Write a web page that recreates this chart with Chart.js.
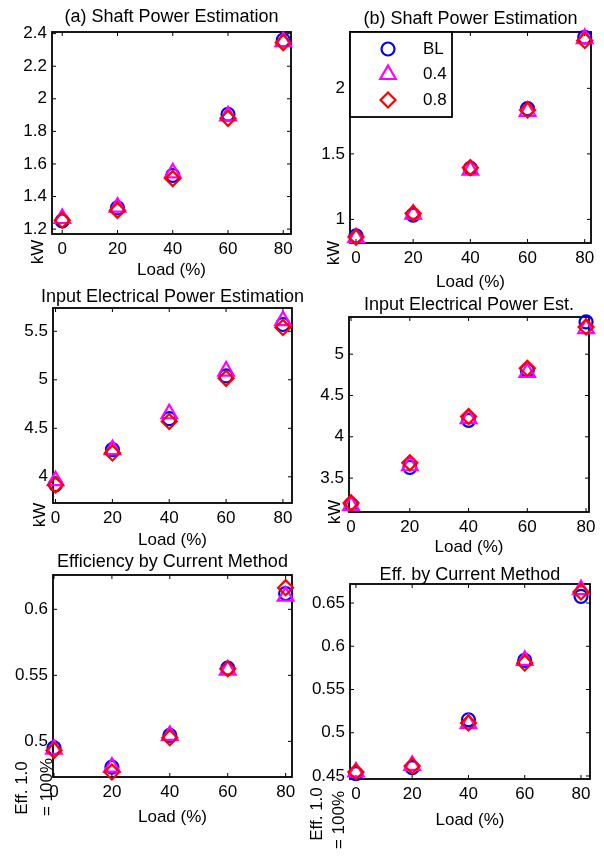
<!DOCTYPE html>
<html>
<head>
<meta charset="utf-8">
<script src="https://cdn.jsdelivr.net/npm/chart.js@4"></script>
<style>
html, body { margin: 0; padding: 0; background: #fff; }
#wrap { position: relative; width: 604px; height: 856px; overflow: hidden; }
#wrap canvas { position: absolute; left: 0; top: 0; }
</style>
</head>
<body>
<div id="wrap">
<canvas id="c1" width="604" height="856"></canvas>
<canvas id="c2" width="604" height="856"></canvas>
<canvas id="c3" width="604" height="856"></canvas>
<canvas id="c4" width="604" height="856"></canvas>
<canvas id="c5" width="604" height="856"></canvas>
<canvas id="c6" width="604" height="856"></canvas>
</div>
<script>
/* ===== data ===== */

const loads = [0, 20, 40, 60, 80];
const seriesNames = ["BL", "0.4", "0.8"];

// (a) shaft power, kW
const shaftA_BL = [1.25, 1.33, 1.53, 1.905, 2.36];
const shaftA_04 = [1.265, 1.335, 1.545, 1.895, 2.35];
const shaftA_08 = [1.255, 1.315, 1.51, 1.88, 2.345];
const shaftA_ticks = [1.2, 1.4, 1.6, 1.8, 2, 2.2, 2.4];

// (b) shaft power, kW
const shaftB_BL = [0.875, 1.033, 1.39, 1.845, 2.39];
const shaftB_04 = [0.86, 1.04, 1.375, 1.825, 2.38];
const shaftB_08 = [0.865, 1.046, 1.395, 1.835, 2.365];
const shaftB_ticks = [1, 1.5, 2];

// input electrical power (left), kW
const inputA_BL = [3.92, 4.28, 4.6, 5.04, 5.57];
const inputA_04 = [3.96, 4.28, 4.65, 5.09, 5.61];
const inputA_08 = [3.915, 4.245, 4.57, 5.015, 5.54];
const inputA_ticks = [4, 4.5, 5, 5.5];

// input electrical power (right), kW
const inputB_BL = [3.18, 3.63, 4.2, 4.805, 5.39];
const inputB_04 = [3.17, 3.65, 4.22, 4.78, 5.31];
const inputB_08 = [3.2, 3.685, 4.245, 4.83, 5.33];
const inputB_ticks = [3.5, 4, 4.5, 5];

// efficiency by current method (left)
const effA_BL = [0.495, 0.4805, 0.5045, 0.5555, 0.612];
const effA_04 = [0.494, 0.4805, 0.5045, 0.554, 0.61];
const effA_08 = [0.4932, 0.4768, 0.5028, 0.555, 0.6164];
const effA_ticks = [0.5, 0.55, 0.6];

// efficiency by current method (right)
const effB_BL = [0.4527, 0.4596, 0.515, 0.5837, 0.6577];
const effB_04 = [0.4546, 0.4623, 0.5105, 0.5837, 0.6654];
const effB_08 = [0.4546, 0.4615, 0.5113, 0.5806, 0.6627];
const effB_ticks = [0.45, 0.5, 0.55, 0.6, 0.65];

/* ===== styles ===== */

const FONT = { family: "'Liberation Sans', Arial, sans-serif", size: 17, weight: "normal" };
const TITLE_SIZE = 18;
const markerStyles = ["circle", "triangle", "rectRot"];
const markerSizes = [6.5, 9, 7.5];
const markerColors = ["#0000ff", "#ff00ff", "#ff0000"];
const Y_AXIS_W = 45;
const TICK = 4;

Chart.defaults.font.family = FONT.family;
Chart.defaults.color = "#000";

/* ===== panel layout ===== */

const panels = [
    { id: "c1", title: "(a) Shaft Power Estimation",
      series: [shaftA_BL, shaftA_04, shaftA_08], yTicks: shaftA_ticks,
      yMin: 1.17, yMax: 2.41, xMin: -3.7, xMax: 82.8,
      area: { left: 52, top: 32, right: 291, bottom: 234 }, titleY: 17, loadY: 270,
      ylab: [{ text: "kW", dx: -14, dy: 18 }] },
    { id: "c2", title: "(b) Shaft Power Estimation",
      series: [shaftB_BL, shaftB_04, shaftB_08], yTicks: shaftB_ticks,
      yMin: 0.82, yMax: 2.43, xMin: -2.1, xMax: 82.2,
      area: { left: 350, top: 32, right: 591, bottom: 243 }, titleY: 19, loadY: 282,
      ylab: [{ text: "kW", dx: -16, dy: 10 }], legend: true },
    { id: "c3", title: "Input Electrical Power Estimation",
      series: [inputA_BL, inputA_04, inputA_08], yTicks: inputA_ticks,
      yMin: 3.73, yMax: 5.74, xMin: -0.9, xMax: 83.2,
      area: { left: 53, top: 308, right: 292, bottom: 503 }, titleY: 297, loadY: 540,
      ylab: [{ text: "kW", dx: -13, dy: 12 }] },
    { id: "c4", title: "Input Electrical Power Est.",
      series: [inputB_BL, inputB_04, inputB_08], yTicks: inputB_ticks,
      yMin: 3.09, yMax: 5.45, xMin: -0.7, xMax: 81,
      area: { left: 349, top: 317, right: 589, bottom: 512 }, titleY: 305, loadY: 547,
      ylab: [{ text: "kW", dx: -14, dy: 0 }] },
    { id: "c5", title: "Efficiency by Current Method",
      series: [effA_BL, effA_04, effA_08], yTicks: effA_ticks,
      yMin: 0.473, yMax: 0.626, xMin: -0.35, xMax: 82.2,
      area: { left: 53, top: 575, right: 292, bottom: 777 }, titleY: 562, loadY: 817,
      ylab: [{ text: "Eff. 1.0", dx: -31, dy: 11 }, { text: "= 100%", dx: -6, dy: 10 }] },
    { id: "c6", title: "Eff. by Current Method",
      series: [effB_BL, effB_04, effB_08], yTicks: effB_ticks,
      yMin: 0.4465, yMax: 0.672, xMin: -2.1, xMax: 83.2,
      area: { left: 350, top: 584, right: 590, bottom: 779 }, titleY: 575, loadY: 820,
      ylab: [{ text: "Eff. 1.0", dx: -33, dy: 35 }, { text: "= 100%", dx: -11, dy: 41 }] }
];

/* ===== plugins ===== */

// axes box with inward ticks on all four sides
const framePlugin = {
    id: "frame",
    beforeDatasetsDraw(chart) {
        const { ctx, chartArea: a, scales } = chart;
        ctx.save();
        ctx.strokeStyle = "#000";
        ctx.lineWidth = 1.8;
        ctx.strokeRect(a.left, a.top, a.right - a.left, a.bottom - a.top);
        ctx.beginPath();
        scales.x.ticks.forEach(t => {
            const px = scales.x.getPixelForValue(t.value);
            ctx.moveTo(px, a.bottom); ctx.lineTo(px, a.bottom - TICK);
            ctx.moveTo(px, a.top); ctx.lineTo(px, a.top + TICK);
        });
        scales.y.ticks.forEach(t => {
            const py = scales.y.getPixelForValue(t.value);
            ctx.moveTo(a.left, py); ctx.lineTo(a.left + TICK, py);
            ctx.moveTo(a.right, py); ctx.lineTo(a.right - TICK, py);
        });
        ctx.lineWidth = 1;
        ctx.stroke();
        ctx.restore();
    }
};

// panel title centred over the axes, allowed to run past them like MATLAB does
const panelTitlePlugin = {
    id: "panelTitle",
    afterDraw(chart, args, opts) {
        const { ctx, chartArea: a } = chart;
        ctx.save();
        ctx.fillStyle = "#000";
        ctx.font = TITLE_SIZE + "px " + FONT.family;
        ctx.textAlign = "center";
        ctx.textBaseline = "middle";
        ctx.fillText(opts.text, (a.left + a.right) / 2, opts.y);
        ctx.restore();
    }
};

// rotated y label sitting low by the origin, as in the original figure
const ylabelPlugin = {
    id: "ylab",
    afterDraw(chart, args, opts) {
        const { ctx, chartArea: a } = chart;
        ctx.save();
        ctx.fillStyle = "#000";
        ctx.font = FONT.size + "px " + FONT.family;
        ctx.textAlign = "center";
        ctx.textBaseline = "middle";
        (opts.lines || []).forEach(l => {
            ctx.save();
            ctx.translate(a.left + l.dx, a.bottom + l.dy);
            ctx.rotate(-Math.PI / 2);
            ctx.fillText(l.text, 0, 0);
            ctx.restore();
        });
        ctx.restore();
    }
};

// boxed legend in the top-left corner of the plot area
const boxLegendPlugin = {
    id: "boxLegend",
    afterDraw(chart, args, opts) {
        if (!opts.show) return;
        const { ctx, chartArea: a } = chart;
        ctx.save();
        ctx.fillStyle = "#fff";
        ctx.fillRect(a.left, a.top, 102, 85);
        ctx.strokeStyle = "#000";
        ctx.lineWidth = 1.8;
        ctx.strokeRect(a.left, a.top, 102, 85);
        ctx.font = FONT.size + "px " + FONT.family;
        ctx.textBaseline = "middle";
        ctx.textAlign = "left";
        chart.data.datasets.forEach((ds, i) => {
            const y = a.top + 17 + i * 25.5;
            ctx.strokeStyle = ds.pointBorderColor;
            ctx.fillStyle = "rgba(0,0,0,0)";
            ctx.lineWidth = ds.pointBorderWidth;
            Chart.helpers.drawPoint(ctx, {
                pointStyle: ds.pointStyle,
                radius: ds.pointRadius,
                borderWidth: ds.pointBorderWidth,
                rotation: 0
            }, a.left + 38, y);
            ctx.fillStyle = "#000";
            ctx.fillText(ds.label, a.left + 73, y);
        });
        ctx.restore();
    }
};

/* ===== charts ===== */

function makePanel(p) {

    const a = p.area;
    const half = FONT.size * 1.2 / 2;

    return new Chart(document.getElementById(p.id), {

        type: "scatter",

        data: {
            datasets: seriesNames.map((name, i) => ({
                label: name,
                data: loads.map((x, k) => ({ x: x, y: p.series[i][k] })),
                pointStyle: markerStyles[i],
                pointRadius: markerSizes[i],
                pointBorderColor: markerColors[i],
                pointBackgroundColor: "rgba(0,0,0,0)",
                pointBorderWidth: 2.2,
                showLine: false,
                order: 3 - i,
                clip: false
            }))
        },

        options: {
            responsive: false,
            animation: false,
            events: [],
            layout: {
                padding: {
                    left: a.left - Y_AXIS_W,
                    right: 604 - a.right,
                    top: a.top,
                    bottom: 856 - p.loadY - half
                }
            },
            plugins: {
                legend: { display: false },
                tooltip: { enabled: false },
                title: { display: false },
                panelTitle: { text: p.title, y: p.titleY },
                ylab: { lines: p.ylab },
                boxLegend: { show: !!p.legend }
            },
            scales: {
                x: {
                    type: "linear",
                    min: p.xMin,
                    max: p.xMax,
                    afterBuildTicks: s => { s.ticks = loads.map(v => ({ value: v })); },
                    afterFit: s => { s.height = p.loadY + half - a.bottom; },
                    grid: { display: false, drawTicks: false },
                    border: { display: false },
                    ticks: { padding: 5, color: "#000", font: FONT, autoSkip: false, maxRotation: 0 },
                    title: { display: true, text: "Load (%)", color: "#000", font: FONT, padding: 0 }
                },
                y: {
                    type: "linear",
                    min: p.yMin,
                    max: p.yMax,
                    afterBuildTicks: s => { s.ticks = p.yTicks.map(v => ({ value: v })); },
                    afterFit: s => { s.width = Y_AXIS_W; },
                    grid: { display: false, drawTicks: false },
                    border: { display: false },
                    ticks: {
                        padding: 5, color: "#000", font: FONT, autoSkip: false,
                        callback: v => String(+Number(v).toFixed(3))
                    }
                }
            }
        },

        plugins: [framePlugin, panelTitlePlugin, ylabelPlugin, boxLegendPlugin]
    });
}

panels.forEach(makePanel);
</script>
</body>
</html>
